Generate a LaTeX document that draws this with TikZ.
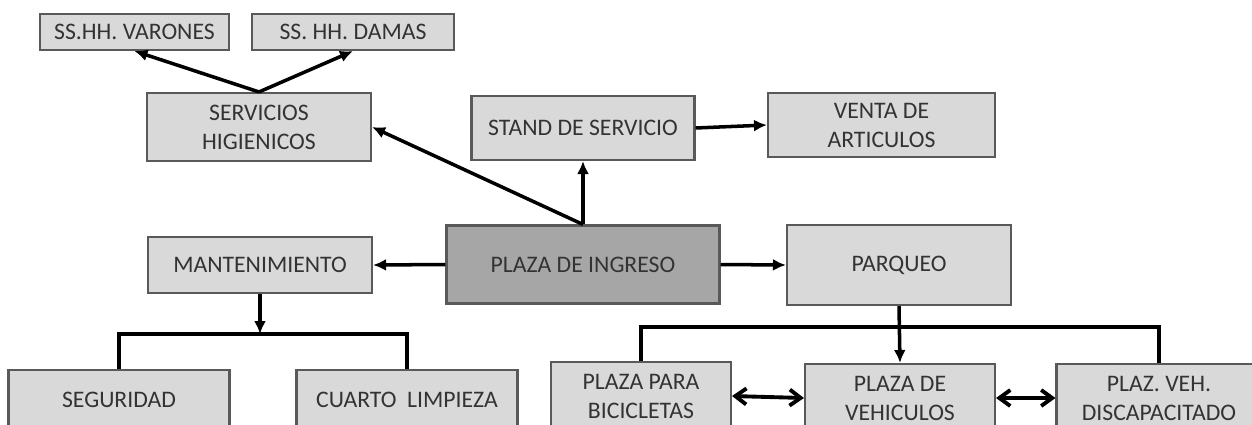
\documentclass[tikz,border=0pt]{standalone}
\usepackage{fontspec}
\setmainfont{Carlito}
\usetikzlibrary{arrows.meta,positioning}
\definecolor{boxgray}{RGB}{217,217,217}
\definecolor{maingray}{RGB}{166,166,166}
\definecolor{edgegray}{RGB}{89,89,89}
\tikzset{
  area/.style={draw=edgegray,line width=1.2pt,fill=boxgray,align=center,inner sep=0pt},
  link/.style={line width=2pt,-{Latex[length=2.6mm,width=2.4mm]}},
  bus/.style={line width=2.5pt},
  both/.style={line width=2.2pt,{Straight Barb[length=2.2mm,width=3.2mm]}-{Straight Barb[length=2.2mm,width=3.2mm]}}
}
\begin{document}
\begin{tikzpicture}[x=0.02cm,y=-0.02cm,font=\fontsize{13.5}{16.5}\selectfont,text=black!80]
        \clip (0,0) rectangle (1252,424);
        % upper row
        \node[area,minimum width=3.78cm,minimum height=0.72cm] (var) at (134.5,32) {SS.HH. VARONES};
        \node[area,minimum width=4.04cm,minimum height=0.72cm] (dam) at (353,32) {SS. HH. DAMAS};
        \node[area,minimum width=4.48cm,minimum height=1.36cm] (shh) at (259,127) {SERVICIOS\\HIGIENICOS};
        \node[area,minimum width=4.46cm,minimum height=1.28cm] (std) at (583,128) {STAND DE SERVICIO};
        \node[area,minimum width=4.54cm,minimum height=1.28cm] (vta) at (881.5,125) {VENTA DE\\ARTICULOS};
        % middle row
        \node[area,fill=maingray,minimum width=5.46cm,minimum height=1.56cm] (ing) at (583,264.5) {PLAZA DE INGRESO};
        \node[area,minimum width=4.48cm,minimum height=1.12cm] (mnt) at (260,265) {MANTENIMIENTO};
        \node[area,minimum width=4.48cm,minimum height=1.6cm] (prq) at (899,265) {PARQUEO};
        % lower row
        \node[area,minimum width=4.42cm,minimum height=1.2cm] (seg) at (119,400) {SEGURIDAD};
        \node[area,minimum width=4.42cm,minimum height=1.2cm] (lim) at (407,400) {CUARTO\ \ LIMPIEZA};
        \node[area,minimum width=3.6cm,minimum height=1.36cm] (bic) at (641,396) {PLAZA PARA\\BICICLETAS};
        \node[area,minimum width=3.8cm,minimum height=1.36cm] (veh) at (900,398) {PLAZA DE\\VEHICULOS};
        \node[area,minimum width=4.1cm,minimum height=1.36cm] (dis) at (1159,398) {PLAZ. VEH.\\DISCAPACITADO};
        \coordinate (mbus) at (260,334);
        \coordinate (pbus) at (900,327);
        % connectors
        \draw[link] (shh.north) -- (var.south);
        \draw[link] (shh.north) -- (dam.south);
        \draw[link] (ing.north) -- (std.south);
        \draw[link] (ing.north) -- (shh.east);
        \draw[link] (std.east) -- (vta.west);
        \draw[link] (ing.west) -- (mnt.east);
        \draw[link] (ing.east) -- (prq.west);
        \draw[link] (mnt.south) -- (mbus);
        \draw[bus] (seg.north) |- (mbus) -| (lim.north);
        \draw[link] (prq.south) -- (veh.north);
        \draw[bus] (bic.north) |- (pbus) -| (dis.north);
        \draw[both] (bic.east) -- (veh.west);
        \draw[both] (veh.east) -- (dis.west);
      \end{tikzpicture}
\end{document}
